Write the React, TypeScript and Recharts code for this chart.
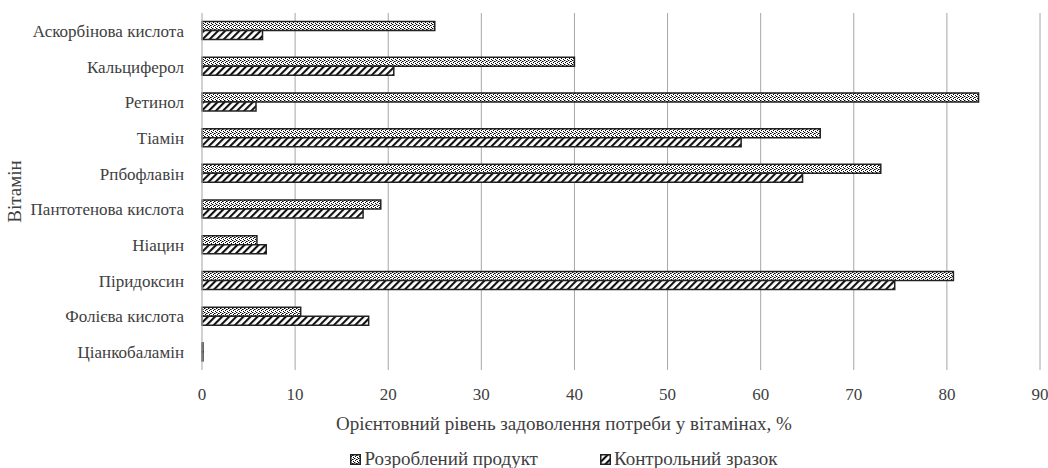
import React from "react";
import { BarChart, Bar, XAxis, YAxis, CartesianGrid, Legend } from "recharts";

const categories = [
  "Аскорбінова кислота",
  "Кальциферол",
  "Ретинол",
  "Тіамін",
  "Рпбофлавін",
  "Пантотенова кислота",
  "Ніацин",
  "Піридоксин",
  "Фолієва кислота",
  "Ціанкобаламін",
];
const developed = [25.0, 40.0, 83.4, 66.4, 72.9, 19.2, 5.9, 80.7, 10.6, 0.1];
const control = [6.5, 20.6, 5.8, 57.9, 64.5, 17.3, 6.9, 74.4, 17.9, 0.1];
const xTicks = [0, 10, 20, 30, 40, 50, 60, 70, 80, 90];
const seriesNames = ["Розроблений продукт", "Контрольний зразок"];
const xTitle = "Орієнтовний рівень задоволення потреби у вітамінах, %";
const yTitle = "Вітамін";

const data = categories.map((c, i) => ({ name: c, a: developed[i], b: control[i] }));

const FONT = "Liberation Serif";
const TXT = "#404040";
const FS = 17;
const FS_T = 19;

const Patterns = () => (
  <svg width={0} height={0} style={{ position: "absolute" }}>
    <defs>
      <pattern id="dots" patternUnits="userSpaceOnUse" width={4} height={4}>
        <rect width={4} height={4} fill="#ffffff" />
        <rect x={0} y={0} width={1} height={1} fill="#000" />
        <rect x={2} y={1} width={1} height={1} fill="#000" />
        <rect x={1} y={2} width={1} height={1} fill="#000" />
        <rect x={3} y={3} width={1} height={1} fill="#000" />
        <rect x={3} y={1} width={1} height={1} fill="#666" />
        <rect x={1} y={0} width={1} height={1} fill="#999" />
      </pattern>
      <pattern
        id="hatch"
        patternUnits="userSpaceOnUse"
        width={5}
        height={5}
        patternTransform="rotate(45)"
      >
        <rect width={5} height={5} fill="#ffffff" />
        <line x1={1} y1={0} x2={1} y2={5} stroke="#111" strokeWidth={2.2} />
      </pattern>
    </defs>
  </svg>
);

const LegendContent = () => (
  <div
    style={{
      display: "flex",
      justifyContent: "center",
      fontFamily: FONT,
      fontSize: FS_T,
      color: TXT,
      position: "relative",
      left: 44,
      paddingTop: 19,
      lineHeight: "20px",
    }}
  >
    {["dots", "hatch"].map((p, i) => (
      <div key={p} style={{ display: "flex", alignItems: "center", marginRight: i === 0 ? 62 : 0 }}>
        <svg width={11} height={11} style={{ marginRight: 3 }}>
          <rect x={0.75} y={0.75} width={9.5} height={9.5} fill={`url(#${p})`} stroke="#222" strokeWidth={1.5} />
        </svg>
        <span>{seriesNames[i]}</span>
      </div>
    ))}
  </div>
);

const tickStyle = { fill: TXT, fontSize: FS, fontFamily: FONT };

export default function App() {
  return (
    <div
      style={{
        position: "absolute",
        left: 0,
        top: 0,
        width: 1048,
        height: 468,
        background: "#fff",
        fontFamily: FONT,
      }}
    >
      <Patterns />
      <BarChart
        width={1048}
        height={468}
        data={data}
        layout="vertical"
        margin={{ top: 13, right: 8, bottom: 0, left: 0 }}
        barCategoryGap="24%"
        barGap={0}
      >
        <CartesianGrid horizontal={false} stroke="#a6a6a6" strokeWidth={1} />
        <XAxis
          type="number"
          domain={[0, 90]}
          ticks={xTicks}
          interval={0}
          axisLine={false}
          tickLine={false}
          height={60}
          tickMargin={12}
          tick={tickStyle}
          label={{
            value: xTitle,
            position: "insideBottom",
            offset: 0,
            dx: -57,
            fill: TXT,
            fontSize: FS_T,
            fontFamily: FONT,
          }}
        />
        <YAxis
          type="category"
          dataKey="name"
          width={202}
          axisLine={{ stroke: "#d0d0d0" }}
          tickLine={false}
          tickMargin={12}
          interval={0}
          tick={tickStyle}
          label={{
            value: yTitle,
            angle: -90,
            position: "insideLeft",
            offset: 14,
            fill: TXT,
            fontSize: FS_T,
            fontFamily: FONT,
            style: { textAnchor: "middle" },
          }}
        />
        <Legend verticalAlign="bottom" height={38} content={<LegendContent />} />
        <Bar dataKey="a" name={seriesNames[0]} fill="url(#dots)" stroke="#222" strokeWidth={1.5} isAnimationActive={false} />
        <Bar dataKey="b" name={seriesNames[1]} fill="url(#hatch)" stroke="#222" strokeWidth={1.5} isAnimationActive={false} />
      </BarChart>
    </div>
  );
}
